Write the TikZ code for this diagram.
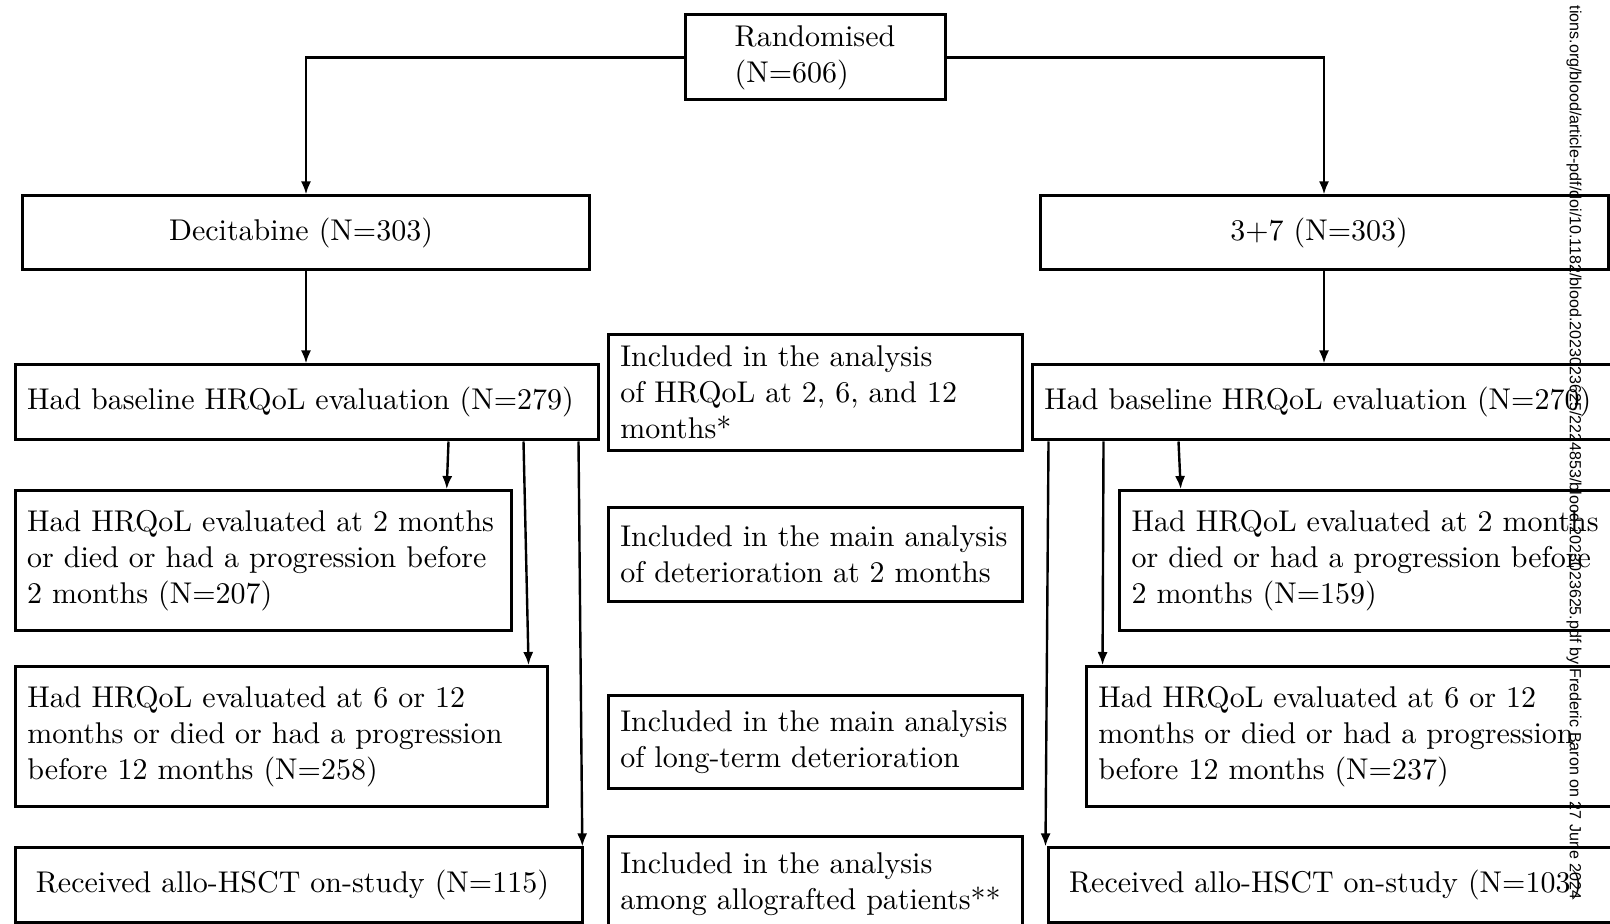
\documentclass[tikz,border=0pt]{standalone}
\usepackage{fontspec}
\newfontfamily\wmfont{Liberation Sans}
\usetikzlibrary{arrows.meta,calc}
\tikzset{
  box/.style={draw, line width=1pt, rectangle, inner xsep=4pt, inner ysep=0pt,
    font=\fontsize{10}{12}\selectfont},
  ltext/.style={align=left, text width=#1},
  ctext/.style={align=center},
  arr/.style={-{Latex[length=4.4pt,width=3.4pt]}, line width=0.8pt},
  wm/.style={rotate=-90, inner sep=0pt, font=\wmfont\fontsize{5.36}{6}\selectfont}
}
\begin{document}
\begin{tikzpicture}[x=0.333333pt,y=-0.333333pt]
\useasboundingbox (0,0) rectangle (1610,924);
\clip (0,0) rectangle (1610,924);
% top
\node[box, align=left, minimum width=86.67pt, minimum height=28.33pt] (rand) at (815,57.5) {Randomised\\(N=606)};
\node[box, ctext, minimum width=188.67pt, minimum height=24.67pt] (dec) at (306,233) {Decitabine (N=303)\hspace*{3.3pt}};
\node[box, ctext, minimum width=189.33pt, minimum height=24.67pt] (ctl) at (1324,233) {3+7 (N=303)\hspace*{3.3pt}};
% baseline
\node[box, ltext=186.33pt, minimum width=194.33pt, minimum height=25pt] (lbase) at (306.5,402.5) {\mbox{Had baseline HRQoL evaluation (N=279)}};
\node[box, ltext=186.33pt, minimum width=194.33pt, minimum height=25pt] (rbase) at (1323.8,402.5) {\mbox{Had baseline HRQoL evaluation (N=270)}};
% 2 months
\node[box, ltext=157.33pt, minimum width=165.33pt, minimum height=46.67pt] (l2m) at (263.2,560.7) {\mbox{Had HRQoL evaluated at 2 months}\\\mbox{or died or had a progression before}\\\mbox{2 months (N=207)}};
\node[box, ltext=157.33pt, minimum width=165.33pt, minimum height=46.67pt] (r2m) at (1367.7,560.7) {\mbox{Had HRQoL evaluated at 2 months}\\\mbox{or died or had a progression before}\\\mbox{2 months (N=159)}};
% 6 or 12 months
\node[box, ltext=169.5pt, minimum width=177.5pt, minimum height=46.67pt] (l612) at (281.7,736.7) {\mbox{Had HRQoL evaluated at 6 or 12}\\\mbox{months or died or had a progression}\\\mbox{before 12 months (N=258)}};
\node[box, ltext=169.5pt, minimum width=177.5pt, minimum height=46.67pt] (r612) at (1352.7,736.7) {\mbox{Had HRQoL evaluated at 6 or 12}\\\mbox{months or died or had a progression}\\\mbox{before 12 months (N=237)}};
% allo
\node[box, inner xsep=6.9pt, ltext=175.2pt, minimum width=189pt, minimum height=24.67pt] (lallo) at (298.7,885) {\mbox{Received allo-HSCT on-study (N=115)}};
\node[box, inner xsep=6.9pt, ltext=175.2pt, minimum width=189pt, minimum height=24.67pt] (rallo) at (1331.9,885) {\mbox{Received allo-HSCT on-study (N=103)}};
% centre column
\node[box, ltext=130.13pt, minimum width=138.13pt, minimum height=38.57pt] (c1) at (815.5,392.2) {\mbox{Included in the analysis}\\\mbox{of HRQoL at 2, 6, and 12}\\\mbox{months*}};
\node[box, ltext=130.13pt, minimum width=138.13pt, minimum height=31.47pt] (c2) at (815.5,554.5) {\mbox{Included in the main analysis}\\\mbox{of deterioration at 2 months}};
\node[box, ltext=130.13pt, minimum width=138.13pt, minimum height=31.33pt] (c3) at (815.5,742) {\mbox{Included in the main analysis}\\\mbox{of long-term deterioration}};
\node[box, ltext=130.13pt, minimum width=138.13pt, minimum height=31.47pt] (c4) at (815.5,884.2) {\mbox{Included in the analysis}\\\mbox{among allografted patients**}};
% connectors
\draw[arr] (rand.west) -| (dec.north);
\draw[arr] (rand.east) -| (ctl.north);
\draw[arr] (dec.south) -- (dec.south |- lbase.north);
\draw[arr] (ctl.south) -- (ctl.south |- rbase.north);
\draw[arr] ($(lbase.south west)+(435,0)$) -- ($(l2m.north west)+(433,0)$);
\draw[arr] ($(lbase.south west)+(510,0)$) -- ($(l612.north west)+(514.6,0)$);
\draw[arr] ($(lbase.south west)+(565,0)$) -- ($(lallo.north east)+(-1.4,0)$);
\draw[arr] ($(rbase.south west)+(147.7,0)$) -- ($(r2m.north west)+(62.5,0)$);
\draw[arr] ($(rbase.south west)+(72.7,0)$) -- ($(r612.north west)+(17.6,0)$);
\draw[arr] ($(rbase.south west)+(17.7,0)$) -- ($(rallo.north west)+(-1.4,0)$);
% watermark
\node[wm, anchor=east] (wmk) at (1574,900) {tions.org/blood/article-pdf/doi/10.1182/blood.2023023625/2224853/blood.2023023625.pdf by Frederic Baron on 27 June 2024};
\end{tikzpicture}
\end{document}
